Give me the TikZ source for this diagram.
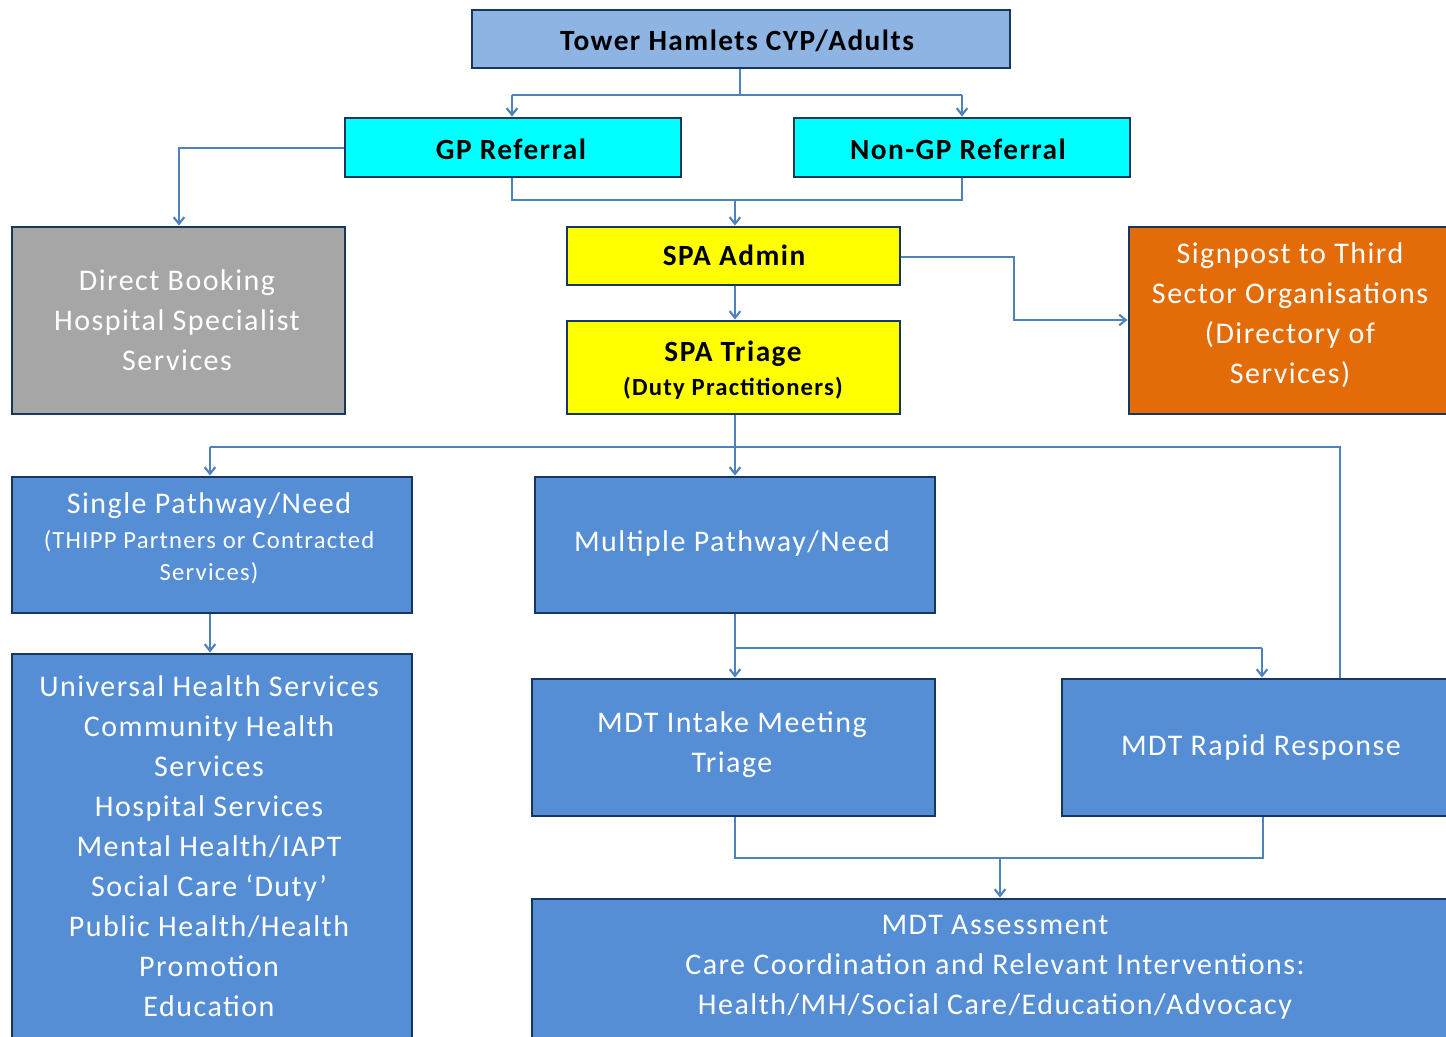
\documentclass[tikz,border=0pt]{standalone}
\usepackage{fontspec}
\setmainfont[LetterSpace=5]{Carlito}
\usetikzlibrary{fit,arrows.meta}
\definecolor{navy}{HTML}{17375E}
\definecolor{boxblue}{HTML}{558ED5}
\definecolor{lightblue}{HTML}{8EB4E3}
\definecolor{cyanbox}{HTML}{00FFFF}
\definecolor{yellowbox}{HTML}{FFFF00}
\definecolor{greybox}{HTML}{A6A6A6}
\definecolor{orangebox}{HTML}{E36C09}
\definecolor{linkblue}{HTML}{4F81BD}
\tikzset{
  box/.style={draw=navy, line width=2.2pt, inner sep=0pt},
  darktext/.style={text=black, align=center, inner sep=0pt, font=\fontsize{22}{30}\selectfont\bfseries},
  lighttext/.style={text=white, align=center, inner sep=0pt, font=\fontsize{22.5}{30}\selectfont},
  link/.style={draw=linkblue, line width=2.2pt},
  arr/.style={link, -{Straight Barb[length=5pt,width=8pt,line width=1.6pt]}},
}
\newcommand{\smalltxt}{\fontsize{18.5}{24}\selectfont}
\begin{document}
\begin{tikzpicture}[x=0.75pt,y=-0.75pt]
\useasboundingbox (0,0) rectangle (1446,1037);
\clip (0,0) rectangle (1446,1037);
% boxes
\node[box, fill=lightblue, fit={(472,10)(1010,68)}] (tower) {};
\node[box, fill=cyanbox, fit={(345,118)(681,177)}] (gp) {};
\node[box, fill=cyanbox, fit={(794,118)(1130,177)}] (nongp) {};
\node[box, fill=greybox, fit={(12,227)(345,414)}] (direct) {};
\node[box, fill=yellowbox, fit={(567,227)(900,285)}] (admin) {};
\node[box, fill=yellowbox, fit={(567,321)(900,414)}] (triage) {};
\node[box, fill=orangebox, fit={(1129,227)(1470,414)}] (signpost) {};
\node[box, fill=boxblue, fit={(12,477)(412,613)}] (single) {};
\node[box, fill=boxblue, fit={(535,477)(935,613)}] (multiple) {};
\node[box, fill=boxblue, fit={(12,654)(412,1060)}] (universal) {};
\node[box, fill=boxblue, fit={(532,679)(935,816)}] (intake) {};
\node[box, fill=boxblue, fit={(1062,679)(1470,816)}] (rapid) {};
\node[box, fill=boxblue, fit={(532,899)(1470,1060)}] (assess) {};
% texts
\node[darktext] (towertext) at (737,41) {Tower Hamlets CYP/Adults};
\node[darktext] (gptext) at (511,149) {GP Referral};
\node[darktext] (nongptext) at (958,149) {Non-GP Referral};
\node[lighttext] (directtext) at (177,320) {Direct Booking\\Hospital Specialist\\Services};
\node[darktext] (admintext) at (734,255) {SPA Admin};
\node[darktext] (triagetext) at (733,370) {SPA Triage\\[-4pt]{\smalltxt(Duty Practitioners)}};
\node[lighttext] (signposttext) at (1290,315) {Signpost to Third\\Sector Organisations\\(Directory of\\Services)};
\node[lighttext] (singletext) at (209,538) {Single Pathway/Need\\[-4pt]{\smalltxt(THIPP Partners or Contracted}\\[-6pt]{\smalltxt Services)}};
\node[lighttext] (multipletext) at (732,544) {Multiple Pathway/Need};
\node[lighttext] (universaltext) at (209,846) {Universal Health Services\\Community Health\\Services\\Hospital Services\\Mental Health/IAPT\\Social Care `Duty'\\Public Health/Health\\Promotion\\Education};
\node[lighttext] (intaketext) at (732,745) {MDT Intake Meeting\\Triage};
\node[lighttext] (rapidtext) at (1261,747) {MDT Rapid Response};
\node[lighttext] (assesstext) at (995,967) {MDT Assessment\\Care Coordination and Relevant Interventions:\\Health/MH/Social Care/Education/Advocacy};
% connectors
\coordinate (t1) at (740,95);
\draw[link] (tower.south -| t1) -- (t1);
\draw[link] (512,95) -- (962,95);
\draw[arr] (512,95) -- (gp.north -| 512,0);
\draw[arr] (962,95) -- (nongp.north -| 962,0);
\draw[link] (gp.south -| 512,0) |- (962,200) -- (nongp.south -| 962,0);
\draw[arr] (735,200) -- (admin.north -| 735,0);
\draw[arr] (gp.west |- 0,148) -| (direct.north -| 179,0);
\draw[arr] (admin.south -| 735,0) -- (triage.north -| 735,0);
\draw[arr] (admin.east |- 0,257) -| (1014,320) -- (signpost.west |- 0,320);
\draw[link] (triage.south -| 735,0) -- (735,447);
\draw[link] (210,447) -- (1340,447) -- (rapid.north -| 1340,0);
\draw[arr] (210,447) -- (single.north -| 210,0);
\draw[arr] (735,447) -- (multiple.north -| 735,0);
\draw[arr] (single.south -| 210,0) -- (universal.north -| 210,0);
\draw[link] (multiple.south -| 735,0) -- (735,648) -- (1262,648);
\draw[arr] (735,648) -- (intake.north -| 735,0);
\draw[arr] (1262,648) -- (rapid.north -| 1262,0);
\draw[link] (intake.south -| 735,0) |- (1263,858) -- (rapid.south -| 1263,0);
\draw[arr] (1000,858) -- (assess.north -| 1000,0);
\end{tikzpicture}
\end{document}
